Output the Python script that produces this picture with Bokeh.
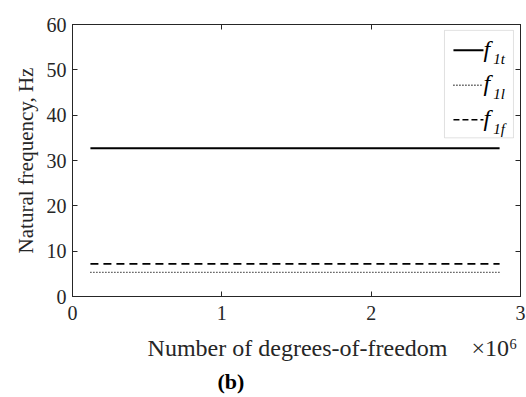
from bokeh.plotting import figure
from bokeh.models import Range1d, LinearAxis, FixedTicker, BoxAnnotation, Label, Title
from bokeh.embed import file_html
from bokeh.resources import INLINE

# Mesh refinement study: number of DOF (millions) vs first natural frequencies
dof_million = [0.12, 0.6, 1.2, 1.8, 2.4, 2.86]
f1t = [32.7, 32.7, 32.7, 32.7, 32.7, 32.7]   # torsional
f1l = [5.3, 5.3, 5.3, 5.3, 5.3, 5.3]         # lateral
f1f = [7.2, 7.2, 7.2, 7.2, 7.2, 7.2]         # flexural

series_subscripts = ["1t", "1l", "1f"]
x_ticks = [0, 1, 2, 3]
y_ticks = [0, 10, 20, 30, 40, 50, 60]

SERIF = "Liberation Serif"
AXIS_COLOR = "#262626"
NBSP = "\u00a0"

p = figure(width=526, height=397, output_backend="svg", toolbar_location=None,
           x_range=Range1d(0, 3), y_range=Range1d(0, 60),
           min_border_left=72, min_border_right=6, min_border_top=24,
           min_border_bottom=60, background_fill_color="white",
           border_fill_color="white")
p.grid.visible = False
p.outline_line_color = AXIS_COLOR
p.outline_line_width = 1

xa = p.xaxis[0]
ya = p.yaxis[0]
xa.ticker = FixedTicker(ticks=x_ticks)
ya.ticker = FixedTicker(ticks=y_ticks)
for ax in (xa, ya):
    ax.axis_line_color = AXIS_COLOR
    ax.major_tick_line_color = AXIS_COLOR
    ax.major_tick_in = 5
    ax.major_tick_out = 0
    ax.minor_tick_line_color = None
    ax.major_label_text_font = SERIF
    ax.major_label_text_color = "#262626"
    ax.major_label_text_font_size = "20px"
    ax.axis_label_text_font = SERIF
    ax.axis_label_text_font_style = "normal"
    ax.axis_label_text_color = "#262626"
xa.major_label_standoff = 9
ya.major_label_standoff = 6
# x label carries the axis exponent at its right end (multiplier x10^6)
xa.axis_label = (NBSP * 12 + "Number of degrees-of-freedom" + NBSP * 4
                 + "\u00d710\u2076")
xa.axis_label_text_font_size = "24px"
ya.axis_label = "Natural frequency, Hz"
ya.axis_label_text_font_size = "21px"
xa.axis_label_standoff = 12
ya.axis_label_standoff = 6

# Box-style frame: tick marks on the top and right edges, no labels there
top_ax = LinearAxis()
right_ax = LinearAxis()
p.add_layout(top_ax, "above")
p.add_layout(right_ax, "right")
top_ax.ticker = FixedTicker(ticks=x_ticks)
right_ax.ticker = FixedTicker(ticks=y_ticks)
top_ax.major_label_overrides = {t: "" for t in x_ticks}
right_ax.major_label_overrides = {t: "" for t in y_ticks}
for ax in (top_ax, right_ax):
    ax.axis_line_color = AXIS_COLOR
    ax.major_tick_line_color = AXIS_COLOR
    ax.major_tick_in = 5
    ax.major_tick_out = 0
    ax.minor_tick_line_color = None
    ax.major_label_text_font_size = "1px"
    ax.major_label_standoff = 0

# Panel tag under the axis
p.add_layout(Title(text="(b)", align="left", offset=145, standoff=7,
                   text_font=SERIF, text_font_style="bold",
                   text_font_size="22px", text_color="black"), "below")

# Curves
p.line(dof_million, f1t, line_color="black", line_width=2)
p.line(dof_million, f1l, line_color="black", line_width=1.3, line_dash="1 2")
p.line(dof_million, f1f, line_color="black", line_width=1.6, line_dash="8 5")

# Legend box (top right)
p.add_layout(BoxAnnotation(left=2.491, right=2.953, bottom=35.0, top=58.7,
                           fill_color="white", fill_alpha=1, level="underlay",
                           line_color="#9a9a9a", line_width=1))
legend_y = [54.3, 46.6, 39.0]
legend_styles = [dict(line_width=2), dict(line_width=1.3, line_dash="1 2"),
                 dict(line_width=1.6, line_dash="6 3")]
for yy, sub, st in zip(legend_y, series_subscripts, legend_styles):
    p.line([2.551, 2.752], [yy, yy], line_color="black", **st)
    p.add_layout(Label(x=2.752, y=yy + 0.4, text="f", text_font=SERIF,
                       text_font_style="italic", text_font_size="24px",
                       text_baseline="middle", text_color="black"))
    p.add_layout(Label(x=2.818, y=yy - 2.0, text=sub, text_font=SERIF,
                       text_font_style="italic", text_font_size="15px",
                       text_baseline="middle", text_color="black"))

open("out.html", "w").write(file_html(p, INLINE))
